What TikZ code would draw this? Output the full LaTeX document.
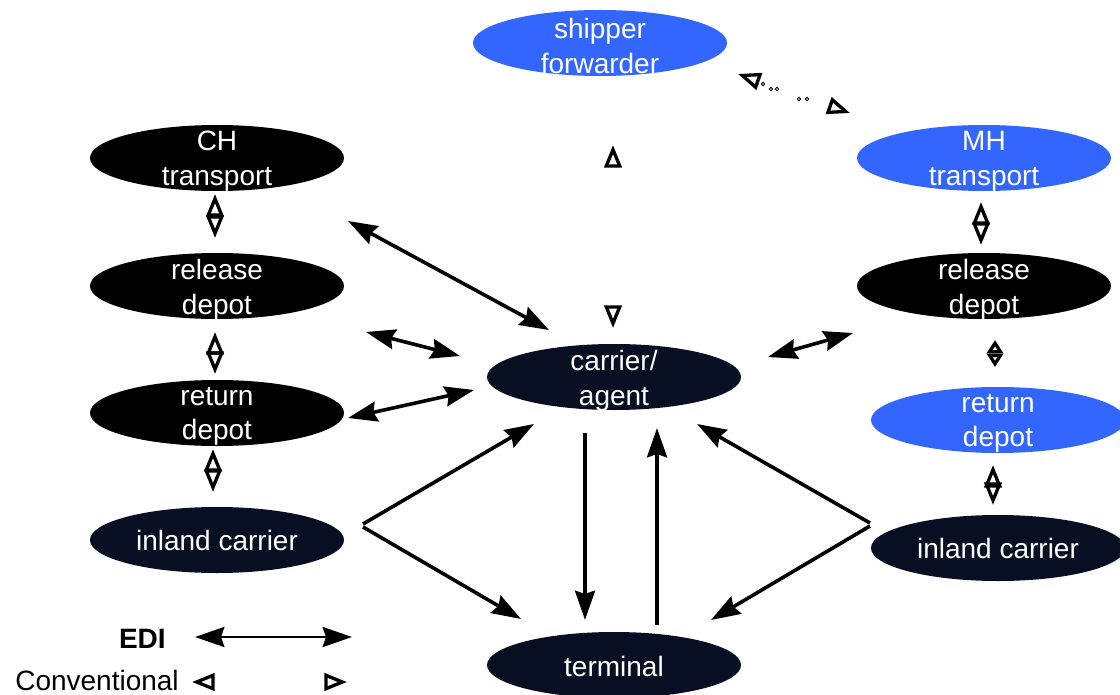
\documentclass[tikz,border=0pt]{standalone}
\usepackage{fontspec}
\setmainfont{Liberation Sans}
\usetikzlibrary{shapes.geometric,arrows.meta,calc}

\definecolor{partyblue}{HTML}{3366FF}
\definecolor{partynavy}{HTML}{080F22}

\tikzset{
  party/.style={ellipse, minimum width=190.5pt, minimum height=49.5pt,
    inner sep=0pt, outer sep=0pt, draw=none},
  blackparty/.style={party, fill=black},
  blueparty/.style={party, fill=partyblue},
  navyparty/.style={party, fill=partynavy},
  partytext/.style={text=white, align=center, inner sep=0pt, yshift=-2.5pt,
    font=\fontsize{21}{26.2}\selectfont},
  legendtext/.style={inner sep=0pt, anchor=east, font=\fontsize{21}{25}\selectfont},
  edihead/.tip={Stealth[length=22pt, width=15pt, inset=2.5pt]},
  edi/.style={line width=2.7pt, edihead-edihead},
  edito/.style={line width=2.7pt, -edihead},
  convhead/.tip={Triangle[open, length=17pt, width=13pt, line width=2.5pt 0, color=black]},
  shortconvhead/.tip={Triangle[open, length=10pt, width=12pt, line width=2.5pt 0, color=black]},
  conv/.style={draw=white, line width=0.4pt, convhead-convhead},
  shortconv/.style={draw=white, line width=0.4pt, shortconvhead-shortconvhead},
  dotring/.style={draw=black, line width=0.6pt, fill=white},
}

% ellipse with a separate white caption node on top
\newcommand\partynode[5][]{%
  \node[#2] (#3) at (#4) {};
  \node[partytext, #1] (#3-text) at (#3) {#5};}

\begin{document}
\begin{tikzpicture}[x=0.75pt, y=-0.75pt]
  \fill[white] (0,0) rectangle (1120,695);
  \useasboundingbox (0,0) rectangle (1120,695);

  % parties
  \partynode{blueparty}{shipper}{600,43}{shipper\\forwarder}
  \partynode{blackparty}{chT}{217,158}{CH\\transport}
  \partynode{blackparty}{relL}{217,286}{release\\depot}
  \partynode{blackparty}{retL}{217,413}{return\\depot}
  \partynode[yshift=2.5pt]{navyparty}{inlL}{217,540}{inland carrier}
  \partynode{navyparty}{carrier}{614,377}{carrier/\\agent}
  \partynode[yshift=1.5pt]{navyparty}{terminal}{614,665}{terminal}
  \partynode{blueparty}{mhT}{984,158}{MH\\transport}
  \partynode{blackparty}{relR}{984,286}{release\\depot}
  \partynode{blueparty}{retR}{998,420}{return\\depot}
  \partynode[yshift=2.5pt]{navyparty}{inlR}{998,548}{inland carrier}

  % EDI links
  \draw[edi] ($(chT)+(131,63)$) -- ($(carrier)+(-65,-47)$);
  \draw[edi] ($(relL)+(149,46)$) -- ($(carrier)+(-154,-21)$);
  \draw[edi] ($(retL)+(131,5)$) -- ($(carrier)+(-140,13)$);
  \draw[edi] ($(relR)+(-131,47)$) -- ($(carrier)+(154,-20)$);
  \draw[edito] ($(inlL)+(146,-16)$) -- ($(carrier)+(-80,47)$);
  \draw[edito] ($(inlL)+(146,-13)$) -- ($(terminal)+(-93,-46)$);
  \draw[edito] ($(carrier)+(-29,56)$) -- ($(terminal)+(-29,-45)$);
  \draw[edito] ($(terminal)+(43,-40)$) -- ($(carrier)+(43,51)$);
  \draw[edito] ($(inlR)+(-128,-25)$) -- ($(carrier)+(83,47)$);
  \draw[edito] ($(inlR)+(-128,-22)$) -- ($(terminal)+(97,-45)$);

  % conventional links
  \draw[conv] ($(chT)+(-2,36)$) -- ($(relL)+(-2,-48)$);
  \draw[conv] ($(relL)+(-2,46)$) -- ($(retL)+(-2,-39)$);
  \draw[conv] ($(retL)+(-4,36)$) -- ($(inlL)+(-4,-48)$);
  \draw[conv] ($(mhT)+(-3,44)$) -- ($(relR)+(-3,-41)$);
  \draw[shortconv] ($(relR)+(11,54)$) -- ($(retR)+(-3,-53)$);
  \draw[conv] ($(retR)+(-5,45)$) -- ($(inlR)+(-5,-43)$);
  \draw[conv] ($(shipper)+(13,102)$) -- ($(carrier)+(-1,-49)$);
  \draw[conv] ($(shipper)+(138,31)$) -- ($(mhT)+(-134,-45)$);
  \foreach \p in {(763,84),(771,89),(777,89),(799,99),(807,99)}
    \draw[dotring] \p circle (1.3pt);

  % legend
  \node[legendtext] (ediLabel) at (166,639) {\textbf{EDI}};
  \coordinate (ediA) at (195,637);
  \coordinate (ediB) at (352,637);
  \draw[edi, line width=2pt] (ediA) -- (ediB);
  \node[legendtext] (convLabel) at (179,680) {Conventional};
  \coordinate (convA) at (192,682);
  \coordinate (convB) at (347,682);
  \draw[conv] (convA) -- (convB);
\end{tikzpicture}
\end{document}
